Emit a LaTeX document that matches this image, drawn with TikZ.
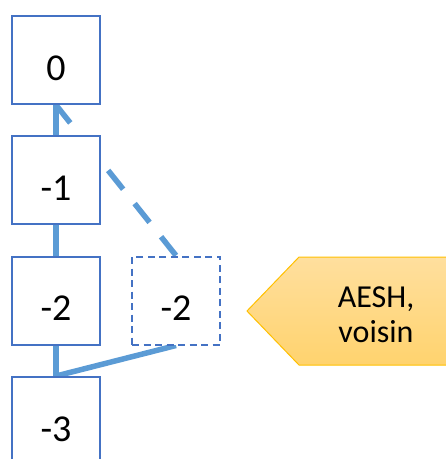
\documentclass[tikz,border=0pt]{standalone}
\usepackage{fontspec}
\setmainfont{Carlito}
\usetikzlibrary{backgrounds}
\definecolor{boxblue}{HTML}{4472C4}
\definecolor{lineblue}{HTML}{5B9BD5}
\definecolor{tagedge}{HTML}{FFC000}
\definecolor{tagtop}{HTML}{FFDF9E}
\definecolor{tagbot}{HTML}{FFD36E}
\begin{document}
\begin{tikzpicture}[x=1pt,y=-1pt,
  box/.style={draw=boxblue,line width=2pt,fill=white,minimum width=88pt,minimum height=88pt,inner sep=0pt,
    text height=40pt,text depth=0pt,font=\fontsize{38}{40}\selectfont},
  dbox/.style={box,dash pattern=on 7pt off 4.5pt,line width=2pt},
  link/.style={draw=lineblue,line width=5.5pt},
  dlink/.style={link,dash pattern=on 24pt off 18.4pt}]
\useasboundingbox (0,0) rectangle (446,459);
\node[box] (n0) at (56,60) {0};
\node[box] (n1) at (56,180) {-1};
\node[box] (n2) at (56,300.5) {-2};
\node[box] (n3) at (56,421) {-3};
\node[dbox] (d2) at (176,300.5) {-2};
\begin{scope}[on background layer]
\draw[link] (n1.north) -- (n0.south);
\draw[link] (n2.north) -- (n1.south);
\draw[link] (n3.north) -- (n2.south);
\draw[link] (n3.north) -- (d2.south);
\draw[dlink] (d2.north) -- (n0.south);
\end{scope}
\draw[draw=tagedge,line width=1pt,top color=tagtop,bottom color=tagbot]
  (247,311) -- (299,257) -- (447,257) -- (447,365) -- (299,365) -- cycle;
\node[align=center,font=\fontsize{32}{35}\selectfont,inner sep=0pt,anchor=base] (tag) at (376,342) {AESH,\\voisin};
\end{tikzpicture}
\end{document}
